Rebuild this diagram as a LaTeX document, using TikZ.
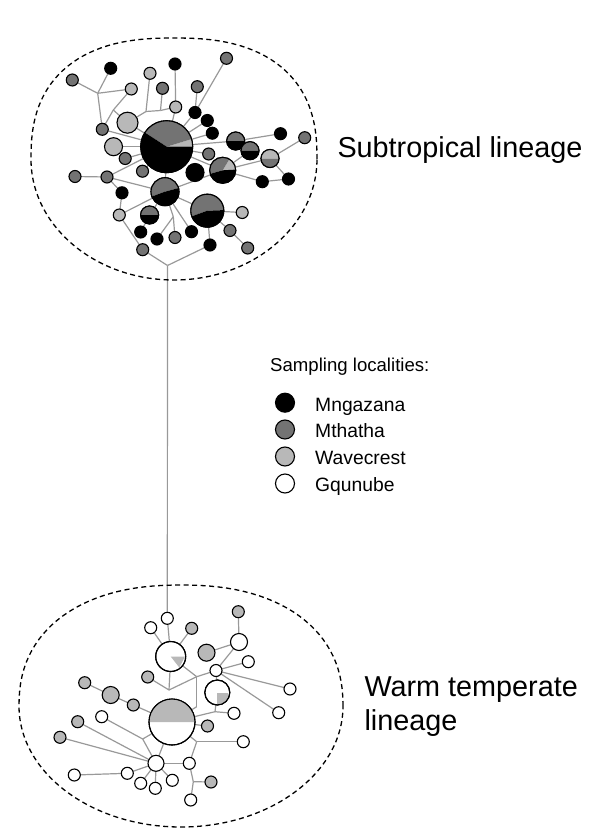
\documentclass[tikz,border=0pt]{standalone}
\usepackage{fontspec}
\setmainfont{Liberation Sans}
\usetikzlibrary{backgrounds}
\definecolor{blk}{gray}{0}
\definecolor{mth}{gray}{0.45}
\definecolor{wav}{gray}{0.72}
\definecolor{wht}{gray}{1}
\definecolor{edgec}{gray}{0.6}
\tikzset{
  hap/.style={circle, draw=black, line width=1.1pt, inner sep=0pt, outer sep=0pt, minimum size=#1},
  ln/.style={draw=edgec, line width=1.2pt},
  ring/.style={draw=black, line width=1.1pt},
  hull/.style={draw=black, line width=1.3pt, dash pattern=on 5pt off 3.5pt},
  bigtxt/.style={inner sep=0pt, anchor=base west, font=\fontsize{28.8}{34}\selectfont},
  legtxt/.style={inner sep=0pt, anchor=base west, font=\fontsize{19.3}{23}\selectfont},
}
% pie sector: node, radius, from angle, to angle (visual, counterclockwise), colour
\newcommand{\pieslice}[5]{\fill[#5] (#1.center) -- ++(-#3:#2) arc[start angle=-#3, end angle=-#4, radius=#2] -- cycle;}
\begin{document}
\begin{tikzpicture}[x=1pt, y=-1pt]
\useasboundingbox (0,0) rectangle (600,840);
% hulls
\draw[hull] plot[domain=0:180, samples=60] ({174+143*cos(\x)*pow(abs(cos(\x))+0.0001,-0.19)}, {159-121*sin(\x)*pow(abs(sin(\x))+0.0001,-0.19)}) arc[start angle=180, end angle=0, x radius=143, y radius=121] -- cycle;
\draw[hull] plot[domain=0:180, samples=60] ({181+162*cos(\x)*pow(abs(cos(\x))+0.0001,-0.12)}, {706-121*sin(\x)*pow(abs(sin(\x))+0.0001,-0.12)}) arc[start angle=180, end angle=0, x radius=162, y radius=121] -- cycle;

% ---------- top network nodes ----------
\node[hap=12pt, fill=mth] (t1) at (72.3,80) {};
\node[hap=12pt, fill=blk] (t2) at (110.7,68.3) {};
\node[hap=12pt, fill=wav] (t3) at (150,73.3) {};
\node[hap=12pt, fill=blk] (t4) at (175,64) {};
\node[hap=12pt, fill=mth] (t5) at (226.5,58.3) {};
\node[hap=12pt, fill=wav] (t6) at (131.3,89) {};
\node[hap=12pt, fill=mth] (t7) at (162.5,88.3) {};
\node[hap=12pt, fill=mth] (t8) at (197.3,86.7) {};
\node[hap=12pt, fill=wav] (t9) at (175.7,107) {};
\node[hap=12pt, fill=blk] (t10) at (195,112.5) {};
\node[hap=12pt, fill=blk] (t11) at (207.3,120.5) {};
\node[hap=12pt, fill=blk] (t12) at (212.3,133.2) {};
\node[hap=21pt, fill=wav] (t13) at (127.5,122.7) {};
\node[hap=12pt, fill=mth] (t14) at (102.3,129.3) {};
\node[hap=18pt, fill=wav] (t15) at (113.5,146.7) {};
\node[hap=12pt, fill=mth] (t16) at (125.2,158.5) {};
\node[hap=52pt, fill=white] (t17) at (166.7,146.7) {};
\node[hap=18pt, fill=white] (t18) at (235.7,141) {};
\node[hap=12pt, fill=blk] (t19) at (280.5,133.7) {};
\node[hap=12pt, fill=mth] (t20) at (304.7,137.7) {};
\node[hap=18pt, fill=white] (t21) at (250,150.7) {};
\node[hap=18pt, fill=white] (t22) at (270,158.5) {};
\node[hap=12pt, fill=mth] (t23) at (208.7,154) {};
\node[hap=18pt, fill=blk] (t24) at (195,172.5) {};
\node[hap=26pt, fill=white] (t25) at (222.7,170.3) {};
\node[hap=12pt, fill=blk] (t26) at (262.3,181.7) {};
\node[hap=12pt, fill=blk] (t27) at (288.5,179) {};
\node[hap=12pt, fill=mth] (t28) at (75,176.5) {};
\node[hap=12pt, fill=mth] (t29) at (107,177) {};
\node[hap=12pt, fill=mth] (t30) at (142.5,171.2) {};
\node[hap=28pt, fill=white] (t31) at (165,191.7) {};
\node[hap=12pt, fill=blk] (t32) at (122,192.8) {};
\node[hap=12pt, fill=wav] (t33) at (119.3,215) {};
\node[hap=18pt, fill=white] (t34) at (149.6,215) {};
\node[hap=33pt, fill=white] (t35) at (207.3,210.7) {};
\node[hap=12pt, fill=wav] (t36) at (242.2,212.5) {};
\node[hap=12pt, fill=blk] (t37) at (140.7,232) {};
\node[hap=12pt, fill=blk] (t38) at (157,239) {};
\node[hap=12pt, fill=mth] (t39) at (175,237.5) {};
\node[hap=12pt, fill=blk] (t40) at (191.5,231.7) {};
\node[hap=12pt, fill=mth] (t41) at (230,230.5) {};
\node[hap=12pt, fill=blk] (t42) at (210,245) {};
\node[hap=12pt, fill=mth] (t43) at (247.7,248) {};
\node[hap=12pt, fill=mth] (t44) at (142.7,249.7) {};
\coordinate (jA) at (97.7,93.3);
\coordinate (jB) at (113.3,110);
\coordinate (jC) at (146,111.5);
\coordinate (jC2) at (160.5,110.5);
\coordinate (jD) at (167.5,265.5);
\coordinate (jE) at (173.3,216.7);

% pies (top)
\pieslice{t17}{26}{0}{17}{wav}
\pieslice{t17}{26}{17}{147}{mth}
\pieslice{t17}{26}{147}{360}{blk}
\draw[ring] (t17.center) circle[radius=26];
\pieslice{t18}{9}{0}{180}{mth}
\pieslice{t18}{9}{180}{360}{blk}
\draw[ring] (t18.center) circle[radius=9];
\pieslice{t21}{9}{0}{180}{mth}
\pieslice{t21}{9}{180}{360}{blk}
\draw[ring] (t21.center) circle[radius=9];
\pieslice{t22}{9}{0}{180}{wav}
\pieslice{t22}{9}{180}{360}{mth}
\draw[ring] (t22.center) circle[radius=9];
\pieslice{t25}{13}{3}{59}{wav}
\pieslice{t25}{13}{59}{196}{mth}
\pieslice{t25}{13}{196}{363}{blk}
\draw[ring] (t25.center) circle[radius=13];
\pieslice{t31}{14}{15}{200}{mth}
\pieslice{t31}{14}{200}{375}{blk}
\draw[ring] (t31.center) circle[radius=14];
\pieslice{t34}{9}{0}{180}{mth}
\pieslice{t34}{9}{180}{360}{blk}
\draw[ring] (t34.center) circle[radius=9];
\pieslice{t35}{16.5}{2}{200}{mth}
\pieslice{t35}{16.5}{200}{362}{blk}
\draw[ring] (t35.center) circle[radius=16.5];

% ---------- bottom network nodes ----------
\node[hap=12pt, fill=wht] (L1) at (167.3,618.3) {};
\node[hap=12pt, fill=wht] (L2) at (150.7,627.7) {};
\node[hap=12pt, fill=wav] (L3) at (191.7,628.3) {};
\node[hap=12pt, fill=wav] (L4) at (238.3,611.7) {};
\node[hap=30pt, fill=wht] (L5) at (170.7,656.5) {};
\node[hap=17pt, fill=wav] (L6) at (206.5,652.7) {};
\node[hap=17pt, fill=wht] (L7) at (239,642) {};
\node[hap=12pt, fill=wht] (L8) at (248.3,661.7) {};
\node[hap=12pt, fill=wht] (L9) at (216,670.5) {};
\node[hap=12pt, fill=wav] (L10) at (147.7,677) {};
\node[hap=25pt, fill=wht] (L11) at (217.3,692.5) {};
\node[hap=12pt, fill=wht] (L12) at (290,689) {};
\node[hap=12pt, fill=wav] (L13) at (84.7,682.7) {};
\node[hap=17pt, fill=wav] (L14) at (110.7,695) {};
\node[hap=12pt, fill=wav] (L15) at (133.3,705) {};
\node[hap=46pt, fill=wht] (L16) at (172,722) {};
\node[hap=12pt, fill=wht] (L17) at (101.7,716.7) {};
\node[hap=12pt, fill=wav] (L18) at (77.7,721.7) {};
\node[hap=12pt, fill=wht] (L19) at (234,713.3) {};
\node[hap=12pt, fill=wht] (L20) at (278.7,712.7) {};
\node[hap=12pt, fill=wav] (L21) at (207.5,726) {};
\node[hap=12pt, fill=wav] (L22) at (60,737.3) {};
\node[hap=12pt, fill=wht] (L23) at (243.3,741.7) {};
\node[hap=16pt, fill=wht] (L24) at (156,763.3) {};
\node[hap=12pt, fill=wht] (L25) at (189.3,763.3) {};
\node[hap=12pt, fill=wht] (L26) at (74.3,775) {};
\node[hap=12pt, fill=wht] (L27) at (127.3,773.3) {};
\node[hap=12pt, fill=wht] (L28) at (140.7,783.3) {};
\node[hap=12pt, fill=wht] (L29) at (155.3,788.3) {};
\node[hap=12pt, fill=wht] (L30) at (172.3,780.3) {};
\node[hap=12pt, fill=wav] (L31) at (211,782) {};
\node[hap=12pt, fill=wht] (L32) at (190.7,800) {};
\coordinate (JL1) at (169,690);
\coordinate (JL2) at (196.7,676.7);
\coordinate (JL3) at (215,711.7);
\coordinate (JL4) at (196.7,706.7);
\coordinate (JL5) at (142.7,739);
\coordinate (JL6) at (196.7,741.7);
\coordinate (JL7) at (193.3,781.7);

% pies (bottom)
\fill[wav] (L5.center) -- +(14.3,0) -- +(8.6,11) -- cycle;
\draw[ring] (L5.center) circle[radius=15];
\begin{scope}
  \clip (L11.center) circle[radius=12];
  \fill[wav] (L11.center) rectangle +(11,11);
\end{scope}
\draw[ring] (L11.center) circle[radius=12.5];
\pieslice{L16}{23}{0}{180}{wav}
\draw[ring] (L16.center) circle[radius=23];

% ---------- connectors ----------
\begin{scope}[on background layer]
\foreach \a/\b in {t1/jA, t2/jA, jA/t6, jA/t14, t6/jB, jB/t14, jB/t13, t3/jC, jC/t13, jC/jC2, jC2/t9, t7/jC2, t4/t9, t9/t17,
  t5/t10, t8/t10, t10/t17, t11/t17, t12/t17, t13/t17, t14/t17, t15/t17, t16/t17, t17/t18, t18/t19, t21/t25, t25/t22,
  t22/t20, t22/t27, t27/t26, t26/t25, t17/t23, t17/t25, t29/t28, t29/t17, t29/t31, t29/t32, t32/t33, t33/t31, t33/t44,
  t44/jD, t42/jD, t35/t42, t35/t41, t41/t43, t35/t36, t31/t35, t31/t25, t30/t17, t31/t17, t31/jE, jE/t38, jE/t39,
  t31/t40, t31/t34, t34/t37}
  \draw[ln] (\a) -- (\b);
\draw[ln] (jD) -- (L1);
\foreach \a/\b in {L1/L5, L2/L5, L3/L5, L5/JL1, JL1/L10, JL1/JL2, JL2/L9, L5/JL2, L6/L7, L4/L7, L7/L9, L9/L8, L9/L12, L9/L20,
  L9/L11, JL2/JL4, JL4/L16, L11/JL3, JL3/L19, JL3/L16, L16/L21, L16/L15, L15/L14, L14/L13, L16/JL5, L17/JL5, JL5/L24,
  L18/L24, L22/L24, L16/L24, L24/L27, L27/L26, L24/L28, L24/L29, L24/L30, L24/L25, L16/JL6, JL6/L23, JL6/L25, L25/JL7,
  JL7/L31, JL7/L32}
  \draw[ln] (\a) -- (\b);
\end{scope}

% ---------- texts ----------
\node[bigtxt] (sub) at (337.3,157.3) {Subtropical lineage};
\node[bigtxt] (wt1) at (364.3,696.7) {Warm temperate};
\node[bigtxt] (wt2) at (364.3,730.7) {lineage};

% ---------- legend ----------
\node[legtxt, font=\fontsize{18.6}{22}\selectfont] (lgt) at (270,371.7) {Sampling localities:};
\node[hap=19pt, fill=blk] (lg1) at (285,402.7) {};
\node[hap=19pt, fill=mth] (lg2) at (285,429.5) {};
\node[hap=19pt, fill=wav] (lg3) at (285,456.5) {};
\node[hap=19pt, fill=wht] (lg4) at (285,483.5) {};
\node[legtxt] (lb1) at (315,411) {Mngazana};
\node[legtxt] (lb2) at (315,437.8) {Mthatha};
\node[legtxt] (lb3) at (315,464.5) {Wavecrest};
\node[legtxt] (lb4) at (315,491) {Gqunube};
\end{tikzpicture}
\end{document}
